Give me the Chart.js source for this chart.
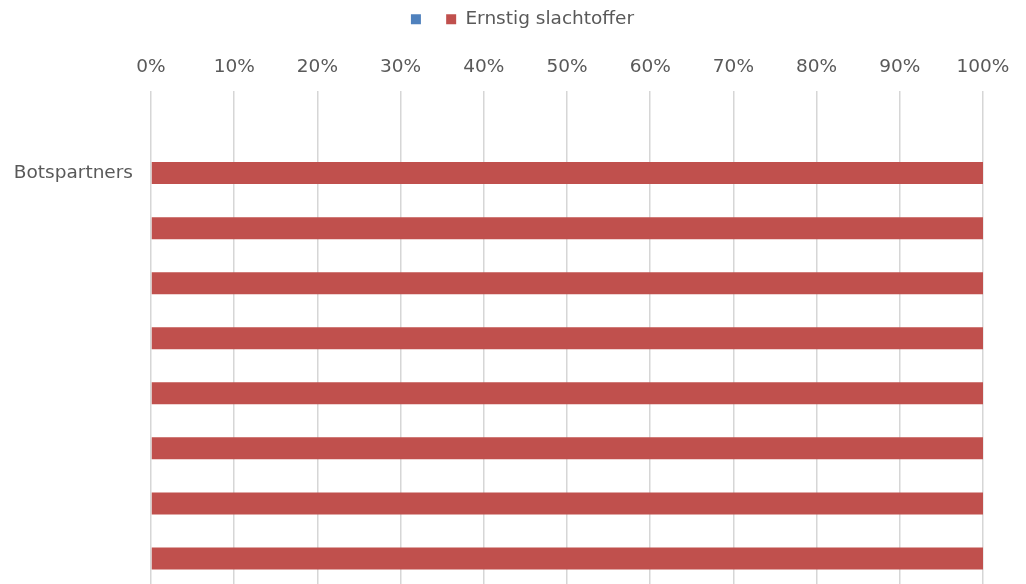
<!DOCTYPE html>
<html>
<head>
<meta charset="utf-8">
<script src="https://cdn.jsdelivr.net/npm/chart.js@4/dist/chart.umd.min.js"></script>
<style>
  html, body { margin: 0; padding: 0; background: #ffffff; overflow: hidden; }
  #wrap { position: relative; width: 1026px; height: 586px; }
</style>
</head>
<body>
<div id="wrap"><canvas id="chart"></canvas></div>
<script>
  // Categories top to bottom; the first row is an empty slot in the source sheet
  const categories = ["", "Botspartners", "", "", "", "", "", "", ""];
  const seriesNames = ["", "Ernstig slachtoffer"];
  const blueValues = [null, 0, 0, 0, 0, 0, 0, 0, 0];
  const redValues = [null, 100, 100, 100, 100, 100, 100, 100, 100];
  const tickStep = 10;

  const textColor = "#595959";
  const font = { family: "'DejaVu Sans', Verdana, sans-serif", size: 18.5 };

  // legend sits a little right of the canvas centre
  const legendShift = {
    id: "legendShift",
    afterLayout(chart) {
      chart.legend.left += 31;
      chart.legend.right += 31;
    }
  };

  new Chart(document.getElementById("chart"), {
    type: "bar",
    data: {
      labels: categories,
      datasets: [
        { label: seriesNames[0], data: blueValues, backgroundColor: "#4f81bd" },
        { label: seriesNames[1], data: redValues, backgroundColor: "#c0504d" }
      ]
    },
    options: {
      indexAxis: "y",
      responsive: true,
      maintainAspectRatio: false,
      animation: false,
      layout: { padding: { left: 0, right: 43, top: -6, bottom: 0 } },
      datasets: { bar: { categoryPercentage: 0.4, barPercentage: 1 } },
      plugins: {
        legend: {
          position: "top",
          labels: { color: textColor, font, boxWidth: 10, boxHeight: 10, padding: 16 }
        },
        tooltip: { enabled: false }
      },
      scales: {
        x: {
          position: "top",
          stacked: true,
          min: 0,
          max: 100,
          afterFit: (scale) => { scale.height = 52; },
          border: { display: false },
          grid: { color: "#d6d6d6", lineWidth: 1.5, drawTicks: false },
          ticks: {
            stepSize: tickStep,
            color: textColor,
            font,
            padding: 12,
            callback: (v) => v + "%"
          }
        },
        y: {
          stacked: true,
          afterFit: (scale) => {
            scale.width = 151;
            scale.paddingTop = 0;
            scale.paddingBottom = 0;
          },
          border: { display: false },
          grid: { display: false, drawTicks: false },
          ticks: { color: textColor, font, padding: 18, autoSkip: false }
        }
      }
    },
    plugins: [legendShift]
  });
</script>
</body>
</html>
